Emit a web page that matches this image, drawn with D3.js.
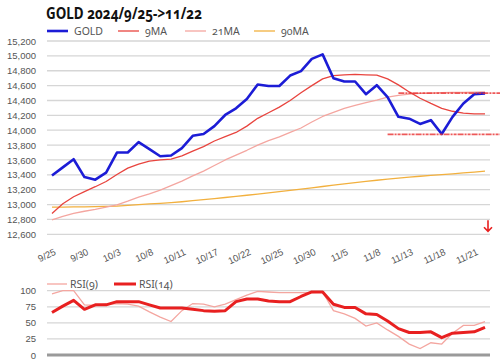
<!DOCTYPE html>
<html>
<head>
<meta charset="utf-8">
<script src="https://cdn.jsdelivr.net/npm/d3@7"></script>
<style>
  body { margin: 0; background: #fff; }
  svg { display: block; font-family: 'Noto Sans', sans-serif; font-variant-numeric: oldstyle-nums; }
  .grid line { stroke: #d6d6d6; stroke-width: 1.3; }
  .axis text { fill: #555; font-size: 9.5px; }
  .legend text { fill: #555; font-size: 10.5px; }
</style>
</head>
<body>
<div id="chart"></div>
<script>
// trading days shown on the x axis (every 3rd one gets a label)
const dates = ['9/25','9/26','9/27','9/30','10/1','10/2','10/3','10/4','10/7','10/8',
  '10/9','10/10','10/11','10/14','10/16','10/17','10/18','10/21','10/22','10/23',
  '10/24','10/25','10/28','10/29','10/30','11/1','11/4','11/5','11/6','11/7',
  '11/8','11/11','11/12','11/13','11/14','11/15','11/18','11/19','11/20','11/21','11/22'];

const gold = [13390, 13500, 13610, 13370, 13335, 13430, 13700, 13700, 13840, 13745,
  13650, 13660, 13760, 13925, 13950, 14055, 14205, 14295, 14420, 14615,
  14595, 14595, 14735, 14795, 14960, 15020, 14700, 14655, 14655, 14485,
  14605, 14445, 14180, 14155, 14085, 14135, 13950, 14180, 14360, 14485, 14495];

const ma9 = [12880, 13010, 13105, 13175, 13240, 13310, 13405, 13490, 13545, 13585,
  13600, 13610, 13655, 13720, 13780, 13855, 13915, 13970, 14055, 14160,
  14235, 14310, 14400, 14505, 14600, 14690, 14735, 14745, 14750, 14745,
  14740, 14690, 14610, 14515, 14430, 14360, 14295, 14255, 14230, 14220, 14220];

const ma21 = [12795, 12840, 12880, 12910, 12935, 12965, 12995, 13045, 13100, 13145,
  13195, 13255, 13315, 13385, 13450, 13525, 13600, 13665, 13730, 13800,
  13860, 13910, 13970, 14030, 14110, 14185, 14240, 14295, 14335, 14370,
  14405, 14445, 14470, 14485, 14495, 14500, 14505, 14508, 14510, 14512, 14515];

const ma90 = [12965, 12966, 12968, 12970, 12973, 12976, 12980, 12990, 13000, 13008,
  13015, 13025, 13038, 13052, 13066, 13080, 13095, 13110, 13125, 13140,
  13157, 13174, 13190, 13207, 13225, 13243, 13261, 13278, 13295, 13311,
  13327, 13342, 13356, 13369, 13381, 13392, 13403, 13414, 13425, 13437, 13450];

const rsi9 = [95, 100, 100, 78, 77, 79, 80, 79, 76, 67,
  59, 52, 69, 80, 79, 75, 79, 86, 93, 99,
  98, 97, 97, 97, 97, 98, 69, 64, 57, 45,
  50, 39, 29, 17, 10, 19, 17, 34, 46, 46, 52];

const rsi14 = [66, 76, 85, 71, 78, 78, 83, 83, 83, 78,
  73, 73, 73, 71, 69, 68, 69, 83, 87, 87,
  84, 83, 83, 91, 98, 98, 79, 74, 74, 64,
  63, 53, 41, 35, 35, 36, 27, 34, 35, 36, 43];

const priceTicks = [12600, 12800, 13000, 13200, 13400, 13600, 13800, 14000,
  14200, 14400, 14600, 14800, 15000, 15200];
const rsiTicks = [0, 25, 50, 75, 100];

// hand drawn support / resistance levels and where they start
const levels = [14500, 13945];
const levelStart = ['11/12', '11/11'];

const width = 500, height = 361;
const left = 47, right = 490;

let svg = d3.select('#chart')
  .append('svg')
    .attr('width', width)
    .attr('height', height);

let x = d3.scalePoint()
  .domain(dates)
  .range([left, right])
  .padding(0.46);

let y = d3.scaleLinear()
  .domain([12600, 15200])
  .range([234.3, 41]);

let yRsi = d3.scaleLinear()
  .domain([0, 100])
  .range([355, 290.7]);

// title
svg.append('text')
  .attr('x', 46)
  .attr('y', 19)
  .attr('font-size', 15.5)
  .attr('font-weight', 'bold')
  .attr('fill', '#111')
  .attr('textLength', 156)
  .attr('lengthAdjust', 'spacingAndGlyphs')
  .text('GOLD 2024/9/25->11/22');

// legend for the price panel
const legendItems = [
  { name: 'GOLD', color: '#1c1cd6', w: 2.6, x: 47 },
  { name: '9MA', color: '#e8443e', w: 1.3, x: 118 },
  { name: '21MA', color: '#f4a6a0', w: 1.3, x: 185 },
  { name: '90MA', color: '#f2b03e', w: 1.3, x: 254 }
];

let legend = svg.append('g').attr('class', 'legend');
legendItems.forEach(d => {
  legend.append('line')
    .attr('x1', d.x).attr('x2', d.x + 21)
    .attr('y1', 31).attr('y2', 31)
    .attr('stroke', d.color)
    .attr('stroke-width', d.w);
  legend.append('text')
    .attr('x', d.x + 27)
    .attr('y', 34.5)
    .text(d.name);
});

// grid
svg.append('g')
  .attr('class', 'grid')
  .selectAll('line')
  .data(priceTicks)
  .join('line')
    .attr('x1', left).attr('x2', right)
    .attr('y1', d => y(d)).attr('y2', d => y(d));

// y axis
let yAxis = svg.append('g')
  .attr('class', 'axis')
  .attr('transform', 'translate(40,0)')
  .call(d3.axisLeft(y).tickValues(priceTicks).tickFormat(d3.format(',')).tickSize(0).tickPadding(4));
yAxis.select('.domain').remove();

// x axis with slanted labels
let xAxis = svg.append('g')
  .attr('class', 'axis')
  .attr('transform', 'translate(0,250)')
  .call(d3.axisBottom(x).tickValues(dates.filter((d, i) => i % 3 === 0)).tickSize(0).tickPadding(0));
xAxis.select('.domain').remove();
xAxis.selectAll('text')
  .style('text-anchor', 'end')
  .attr('dx', '0.2em')
  .attr('dy', '0.6em')
  .attr('transform', 'rotate(-25)');

// lines
let line = d3.line()
  .x((d, i) => x(dates[i]))
  .y(d => y(d));

const series = [
  { values: ma90, color: '#f2b03e', w: 1.3 },
  { values: ma21, color: '#f4a6a0', w: 1.3 },
  { values: ma9, color: '#e8443e', w: 1.3 },
  { values: gold, color: '#1c1cd6', w: 2.6 }
];

svg.append('g')
  .selectAll('path')
  .data(series)
  .join('path')
    .attr('d', d => line(d.values))
    .attr('fill', 'none')
    .attr('stroke', d => d.color)
    .attr('stroke-width', d => d.w)
    .attr('stroke-linejoin', 'round');

// red dashed levels, they run off the right edge
svg.append('g')
  .selectAll('line')
  .data(levels)
  .join('line')
    .attr('x1', (d, i) => x(levelStart[i]))
    .attr('x2', width)
    .attr('y1', d => y(d)).attr('y2', d => y(d))
    .attr('stroke', '#e83030')
    .attr('stroke-width', 1.8)
    .attr('stroke-opacity', 0.8)
    .attr('stroke-dasharray', '6,1,2,1,3,1');

// little down arrow in the corner
const ax = right - 2, ay = y.range()[0] - 3;
svg.append('path')
  .attr('d', `M${ax},${ay - 11}V${ay}M${ax - 4},${ay - 4}L${ax},${ay}L${ax + 4},${ay - 4}`)
  .attr('fill', 'none')
  .attr('stroke', '#e82020')
  .attr('stroke-width', 1.6);

// ---- RSI panel ----
let rsiLegend = svg.append('g').attr('class', 'legend');
rsiLegend.append('line')
  .attr('x1', 47).attr('x2', 67).attr('y1', 284).attr('y2', 284)
  .attr('stroke', '#f4a6a0').attr('stroke-width', 1.3);
rsiLegend.append('text').attr('x', 70).attr('y', 287.5).text('RSI(9)');
rsiLegend.append('line')
  .attr('x1', 114).attr('x2', 136).attr('y1', 284).attr('y2', 284)
  .attr('stroke', '#e82020').attr('stroke-width', 3);
rsiLegend.append('text').attr('x', 139).attr('y', 287.5).text('RSI(14)');

svg.append('g')
  .attr('class', 'grid')
  .selectAll('line')
  .data(rsiTicks.filter(d => d > 0))
  .join('line')
    .attr('x1', left).attr('x2', right)
    .attr('y1', d => yRsi(d)).attr('y2', d => yRsi(d));

svg.append('line')
  .attr('x1', left).attr('x2', right)
  .attr('y1', yRsi(0)).attr('y2', yRsi(0))
  .attr('stroke', '#9a9a9a')
  .attr('stroke-width', 2.8);

let rsiAxis = svg.append('g')
  .attr('class', 'axis')
  .attr('transform', 'translate(36,0)')
  .call(d3.axisLeft(yRsi).tickValues(rsiTicks).tickSize(0).tickPadding(0));
rsiAxis.select('.domain').remove();

let rsiLine = d3.line()
  .x((d, i) => x(dates[i]))
  .y(d => yRsi(d));

svg.append('path')
  .attr('d', rsiLine(rsi9))
  .attr('fill', 'none')
  .attr('stroke', '#f4a6a0')
  .attr('stroke-width', 1.3);

svg.append('path')
  .attr('d', rsiLine(rsi14))
  .attr('fill', 'none')
  .attr('stroke', '#e82020')
  .attr('stroke-width', 3)
  .attr('stroke-linejoin', 'round');
</script>
</body>
</html>
